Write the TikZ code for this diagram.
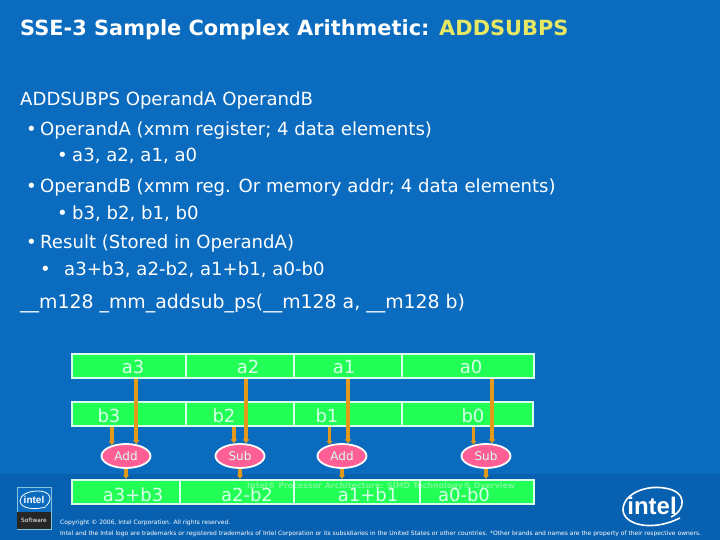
\documentclass[tikz,border=0pt]{standalone}
\usepackage{fontspec}
\setmainfont{DejaVu Sans}
\newfontfamily\logofont{Liberation Sans}
\usetikzlibrary{arrows.meta,shapes.geometric}
\definecolor{slidebg}{HTML}{0A6BBF}
\definecolor{footbg}{HTML}{0861B0}
\definecolor{titleyellow}{HTML}{E6E864}
\definecolor{cellgreen}{HTML}{22FF55}
\definecolor{celltext}{HTML}{D8FFEA}
\definecolor{opink}{HTML}{FF5F94}
\definecolor{floworange}{HTML}{E39A1A}
\begin{document}
\begin{tikzpicture}[x=1pt,y=-1pt]
  % Define style for registers and operations
  \tikzstyle{cell} = [draw=celltext, line width=2pt, rectangle, fill=cellgreen, inner sep=0pt]
  \tikzstyle{celltxt} = [text=celltext, font=\fontsize{18}{18}\selectfont, anchor=base, inner sep=0pt]
  \tikzstyle{oper} = [draw=white, line width=1.8pt, ellipse, fill=opink, minimum width=49pt, minimum height=24pt, inner sep=0pt, text=celltext, font=\fontsize{12}{12}\selectfont]
  \tikzstyle{flow} = [floworange, line width=3.6pt, -{Latex[length=4pt,width=7pt]}]
  \tikzstyle{line} = [text=white, anchor=base west, inner sep=0pt, font=\fontsize{18.1}{18.1}\selectfont]
  \tikzstyle{legal} = [text=white, anchor=base west, inner sep=0pt, font=\fontsize{6}{6}\selectfont]

  % Slide background
  \fill[slidebg] (0,0) rectangle (720,540);
  \fill[footbg] (0,474) rectangle (720,540);
  \useasboundingbox (0,0) rectangle (720,540);

  % Text of the slide
  \node(title)[line, font=\fontsize{20.9}{20.9}\selectfont\bfseries] at (20,36) {SSE-3 Sample Complex Arithmetic: \textcolor{titleyellow}{ADDSUBPS}};
  \node(syntax)[line] at (20,106) {ADDSUBPS OperandA OperandB};
  \foreach \name/\x/\y/\gap/\txt in {
    opa/26/136/14pt/{OperandA (xmm register; 4 data elements)},
    opad/57/162/15pt/{a3, a2, a1, a0},
    opb/26/193/14pt/{OperandB (xmm reg. Or memory addr; 4 data elements)},
    opbd/57/219/15pt/{b3, b2, b1, b0},
    res/26/248/14pt/{Result (Stored in OperandA)},
    resd/40/275/24pt/{a3+b3, a2-b2, a1+b1, a0-b0}} {
    \node(\name)[line] at (\x,\y) {\makebox[\gap][l]{•}\txt};
  }
  \node(proto)[line, font=\fontsize{18.9}{18.9}\selectfont] at (20,308) {\_\_m128 \_mm\_addsub\_ps(\_\_m128 a, \_\_m128 b)};

  % Draw the registers
  \foreach \name/\xa/\xb/\ya/\yb/\tx/\ty/\txt in {
    a3/72/186/354/378/133/373/a3, a2/186/294/354/378/248/373/a2, a1/294/402/354/378/344/373/a1, a0/402/534/354/378/471/373/a0,
    b3/72/186/402/426/109/422/b3, b2/186/294/402/426/224/422/b2, b1/294/402/402/426/327/422/b1, b0/402/533/402/426/473/422/b0,
    r3/72/180/480/504/133/501/a3+b3, r2/180/294/480/504/247/501/a2-b2, r1/294/420/480/504/368/501/a1+b1, r0/420/534/480/504/464/501/a0-b0} {
    \node(\name)[cell, minimum width=\xb-\xa, minimum height=\yb-\ya] at ({(\xa+\xb)/2},{(\ya+\yb)/2}) {};
    \node(\name txt)[celltxt] at (\tx,\ty) {\txt};
  }

  % Draw the operations
  \node(add3)[oper] at (126,456) {Add};
  \node(sub2)[oper] at (240,456) {Sub};
  \node(add1)[oper] at (342,456) {Add};
  \node(sub0)[oper] at (486,456) {Sub};

  \foreach \top/\bot/\op/\ang/\bng in {a3/b3/add3/49/143,a2/b2/sub2/64/116,a1/b1/add1/64/138,a0/b0/sub0/64/138} {
    \draw[flow] (\top.south -| \op.\ang) -- (\op.\ang);
    \draw[flow] (\bot.south -| \op.\bng) -- (\op.\bng);
  }
  \foreach \op/\out in {add3/r3,sub2/r2,add1/r1,sub0/r0} {
    \draw[flow] (\op.south) -- (\op.south |- \out.north);
  }

  % Footer
  \node(mark)[legal, text=white, opacity=.38, font=\fontsize{7.9}{7.9}\selectfont\bfseries] at (247,488) {Intel® Processor Architecture: SIMD Technology® Overview};
  \node(copy)[legal] at (60,524) {Copyright © 2006, Intel Corporation. All rights reserved.};
  \node(tm)[legal] at (60,535) {Intel and the Intel logo are trademarks or registered trademarks of Intel Corporation or its subsidiaries in the United States or other countries. *Other brands and names are the property of their respective owners.};

  % Software badge
  \draw[celltext!60!slidebg, line width=.6pt, fill=slidebg] (17,487) rectangle (51,529);
  \fill[black!85] (17,512) rectangle (51,529);
  \node(softw)[text=white, inner sep=0pt, font=\fontsize{5.8}{5.8}\selectfont] at (34,520.5) {Software};
  \node(smalllogo)[text=white, inner sep=0pt, font=\logofont\fontsize{10}{10}\selectfont\bfseries] at (34,500) {intel};
  \draw[white, line width=.8pt] (46,506) .. controls (53,500) and (51,491) .. (38,491) .. controls (28,491) and (20,495) .. (20,501) .. controls (21,509) and (34,510) .. (46,507);

  % Intel logo
  \node(biglogo)[text=white, inner sep=0pt, font=\logofont\fontsize{24}{24}\selectfont\bfseries] at (652,506) {intel};
  \draw[white, line width=1.6pt] (671,517) .. controls (686,510) and (688,491) .. (664,488) .. controls (645,485) and (623,494) .. (623,510) .. controls (624,525) and (652,532) .. (680,518);
\end{tikzpicture}
\end{document}
